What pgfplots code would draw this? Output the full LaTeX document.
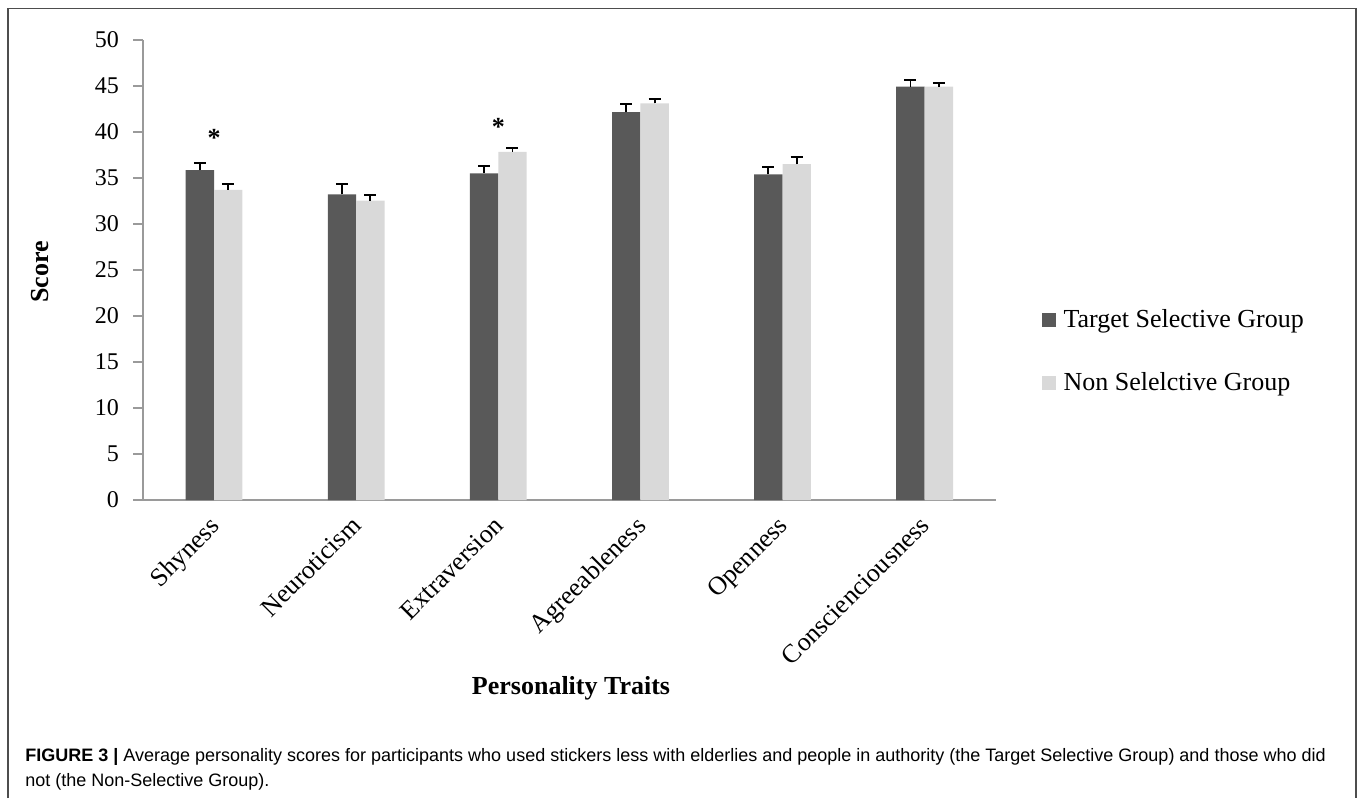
\documentclass[border=0pt]{standalone}
\usepackage{pgfplots}
\pgfplotsset{compat=1.18}
\usepackage{fontspec}
\setmainfont{Liberation Serif}
\newfontfamily\capfont{Liberation Sans}
\definecolor{darkbar}{HTML}{595959}
\definecolor{lightbar}{HTML}{D9D9D9}
\definecolor{axisgray}{HTML}{9A9A9A}
\definecolor{framegray}{HTML}{4D4D4D}

\begin{document}
\begin{tikzpicture}[x=1pt,y=1pt]
\useasboundingbox (0,0) rectangle (679,-399);
% figure frame
\draw[line width=0.75pt, color=framegray] (4,-399) -- (4,-4.3) -- (678,-4.3) -- (678,-399);
\begin{axis}[
  at={(71.5pt,-250pt)}, anchor=south west,
  scale only axis, width=426.35pt, height=230pt,
  xmin=-0.5, xmax=5.5, ymin=0, ymax=50,
  ytick={0,5,...,50},
  xtick={0,...,5},
  xticklabels={Shyness,Neuroticism,Extraversion,Agreeableness,Openness,Conscienciousness},
  axis x line*=bottom, axis y line*=left,
  axis line style={axisgray, line width=0.75pt},
  tick align=outside,
  major tick length=5pt,
  ytick style={axisgray, line width=0.75pt},
  xtick style={draw=none},
  /pgf/number format/assume math mode=true,
  yticklabel style={font=\fontsize{12}{14}\selectfont, xshift=-3.5pt},
  xticklabel style={font=\fontsize{13}{15}\selectfont, xshift=-3pt, yshift=2.5pt, rotate=45, anchor=north east},
  ybar, bar width=14.2pt,
  legend style={at={(axis description cs:1.0533,0.323)}, anchor=west,
    draw=none, fill=none, font=\fontsize{13}{15}\selectfont,
    row sep=19pt, inner sep=0pt, nodes={inner sep=1pt},
    /tikz/every odd column/.append style={column sep=3pt}},
  legend cell align=left,
  legend image code/.code={\fill[#1] (0pt,-3.5pt) rectangle (7pt,3.5pt);},
  error bars/y dir=plus,
  error bars/y explicit,
  error bars/error bar style={black, line width=0.9pt},
  error bars/error mark options={rotate=90, black, line width=0.9pt, mark size=3pt},
]
\addplot[fill=darkbar, draw=none, bar shift=-7.1pt] coordinates {
  (0,35.87) +- (0,0.76)
  (1,33.23) +- (0,1.12)
  (2,35.51) +- (0,0.79)
  (3,42.17) +- (0,0.84)
  (4,35.40) +- (0,0.83)
  (5,44.92) +- (0,0.73)
};
\addplot[fill=lightbar, draw=none, bar shift=7.1pt] coordinates {
  (0,33.70) +- (0,0.65)
  (1,32.53) +- (0,0.65)
  (2,37.83) +- (0,0.46)
  (3,43.12) +- (0,0.47)
  (4,36.52) +- (0,0.73)
  (5,44.92) +- (0,0.37)
};
\legend{Target Selective Group, Non Selelctive Group}
% significance markers
\node[font=\fontsize{13}{13}\selectfont\bfseries] at (axis cs:0,39.4) {*};
\node[font=\fontsize{13}{13}\selectfont\bfseries] at (axis cs:2,40.6) {*};
\end{axis}
\node[font=\fontsize{13}{15}\selectfont\bfseries] at (285.5,-344) {Personality Traits};
\node[font=\fontsize{13}{15}\selectfont\bfseries, rotate=90] at (20,-136) {Score};
\node[anchor=base west, inner sep=0pt, font=\capfont\fontsize{9}{10.8}\selectfont] at (12.5,-380.8)
  {\textbf{FIGURE 3 |} Average personality scores for participants who used stickers less with elderlies and people in authority (the Target Selective Group) and those who did};
\node[anchor=base west, inner sep=0pt, font=\capfont\fontsize{9}{10.8}\selectfont] at (12.5,-393)
  {not (the Non-Selective Group).};
\end{tikzpicture}
\end{document}
